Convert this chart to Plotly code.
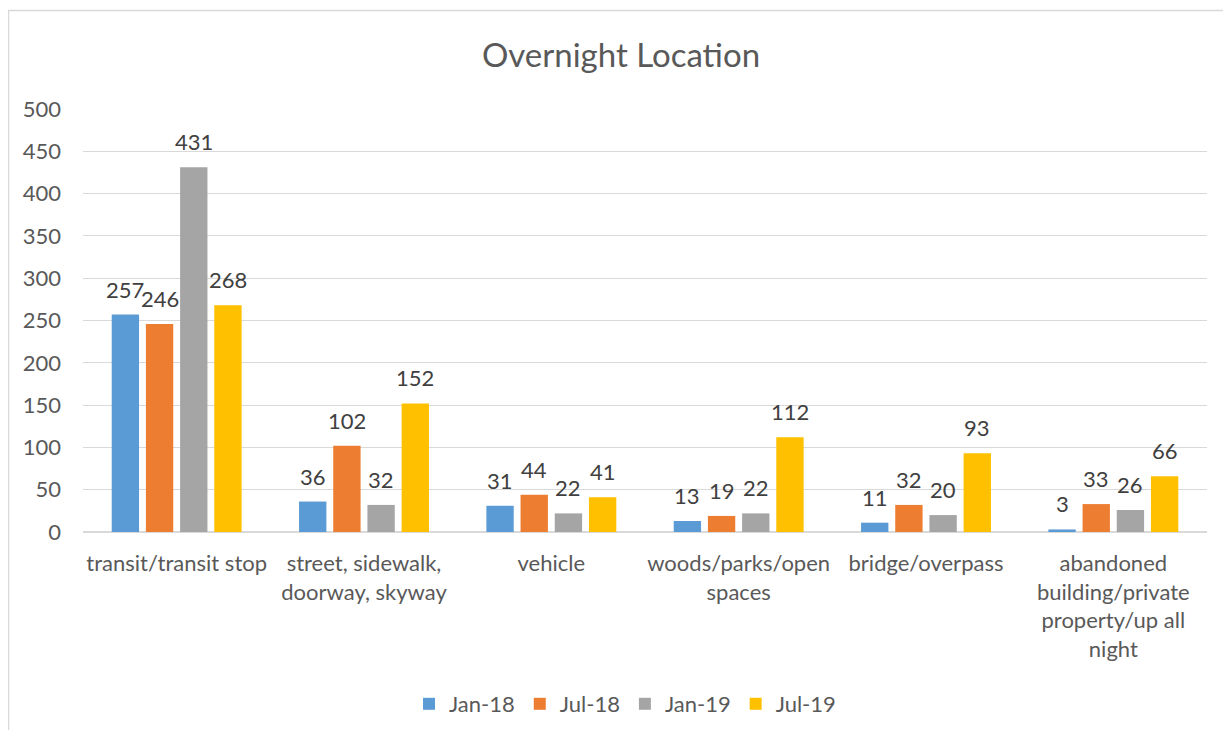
import plotly.graph_objects as go

categories = [
    "transit/transit stop",
    "street, sidewalk,<br>doorway, skyway",
    "vehicle",
    "woods/parks/open<br>spaces",
    "bridge/overpass",
    "abandoned<br>building/private<br>property/up all<br>night",
]
series_names = ["Jan-18", "Jul-18", "Jan-19", "Jul-19"]
jan18 = [257, 36, 31, 13, 11, 3]
jul18 = [246, 102, 44, 19, 32, 33]
jan19 = [431, 32, 22, 22, 20, 26]
jul19 = [268, 152, 41, 112, 93, 66]
colors = ["#5B9BD5", "#ED7D31", "#A5A5A5", "#FFC000"]
y_ticks = [0, 50, 100, 150, 200, 250, 300, 350, 400, 450, 500]

series_values = [jan18, jul18, jan19, jul19]
FONT = "Lato"
TXT = "#595959"
FS = 22

# page body has an 8px margin; figure coordinates = viewport - 8
W, H = 1215, 722
L, R, T, B = 75, 16, 101, 198
pw = W - L - R
ph = H - T - B

fig = go.Figure()
for name, vals, col in zip(series_names, series_values, colors):
    fig.add_trace(go.Bar(
        name=name, x=categories, y=vals, marker_color=col,
        marker_line_width=0,
    ))

cat_w = pw / len(categories)
bargap = 0.27
slot = cat_w * (1 - bargap) / 4
for si, vals in enumerate(series_values):
    for ci, v in enumerate(vals):
        fig.add_annotation(
            x=categories[ci], y=v, xref="x", yref="y",
            text=str(v), showarrow=False,
            xshift=(si - 1.5) * slot, yshift=10,
            yanchor="bottom",
            font=dict(family=FONT, size=FS, color="#404040"),
        )

# chart border
fig.add_shape(type="rect", xref="paper", yref="paper",
              x0=(0.5 - L) / pw, x1=(1240 - L) / pw,
              y0=-0.6, y1=1 + (T - 2.5) / ph,
              line=dict(color="#D9D9D9", width=1.5), fillcolor="rgba(0,0,0,0)",
              layer="below")

fig.update_layout(
    width=W, height=H,
    margin=dict(l=L, r=R, t=T, b=B, pad=0, autoexpand=False),
    paper_bgcolor="white", plot_bgcolor="white",
    barmode="group", bargap=bargap, bargroupgap=0.2,
    font=dict(family=FONT, size=FS, color=TXT),
    title=dict(text="Overnight Location", x=613 / W, y=1 - 47 / H,
               xanchor="center", yanchor="middle", xref="container", yref="container",
               font=dict(family=FONT, size=33, color=TXT)),
    legend=dict(orientation="h", x=617 / W, xanchor="center", xref="container",
                y=1 - 696 / H, yanchor="middle", yref="container",
                font=dict(family=FONT, size=FS, color=TXT),
                itemclick=False, traceorder="normal"),
    showlegend=True,
)
fig.update_yaxes(range=[0, 500], tickvals=y_ticks, showgrid=True, gridcolor="#D9D9D9",
                 gridwidth=1.3, zeroline=True, zerolinecolor="#D9D9D9", zerolinewidth=1.5,
                 showline=False, ticks="", ticklabelstandoff=21, automargin=False,
                 tickfont=dict(family=FONT, size=FS, color=TXT))
fig.update_xaxes(showline=False, ticks="", showgrid=False, ticklabelstandoff=16,
                 automargin=False,
                 tickfont=dict(family=FONT, size=FS, color=TXT), tickangle=0)

fig.write_html("out.html")
